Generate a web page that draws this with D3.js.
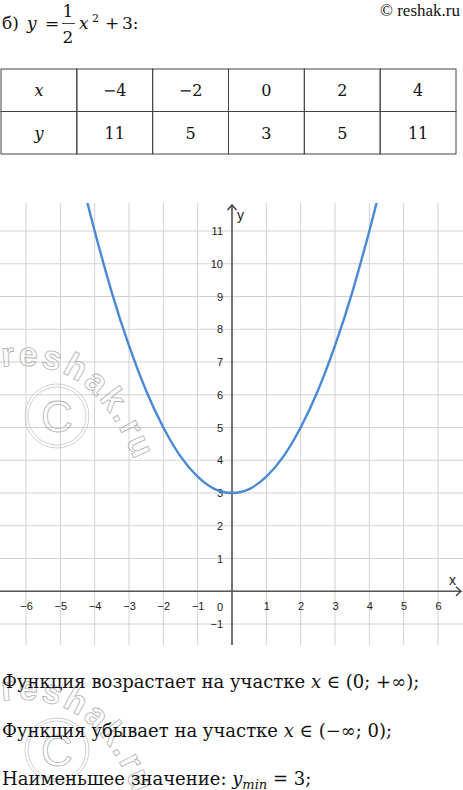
<!DOCTYPE html>
<html>
<head>
<meta charset="utf-8">
<script src="https://d3js.org/d3.v7.min.js"></script>
<style>
  body { margin: 0; background: #fff; }
  .serif { font-family: "DejaVu Serif", serif; fill: #111; }
  .tick text { font-family: "Liberation Sans", Arial, sans-serif; font-size: 11px; fill: #222; }
  .wm { font-family: "Liberation Sans", Arial, sans-serif; fill: none; stroke: #b0b0b0; stroke-width: 0.8; }
</style>
</head>
<body>
<svg id="stage" width="463" height="790"></svg>
<script>
// table values
var tableX = [-4, -2, 0, 2, 4];
var tableY = [11, 5, 3, 5, 11];

var curveX = [-4.22, -4, -3.5, -3, -2.5, -2, -1.5, -1, -0.5, 0, 0.5, 1, 1.5, 2, 2.5, 3, 3.5, 4, 4.22];
var curveY = [11.9, 11, 9.12, 7.5, 6.12, 5, 4.12, 3.5, 3.12, 3, 3.12, 3.5, 4.12, 5, 6.12, 7.5, 9.12, 11, 11.9];

// axis ticks
var tickX = [-6, -5, -4, -3, -2, -1, 1, 2, 3, 4, 5, 6];
var tickY = [-1, 1, 2, 3, 4, 5, 6, 7, 8, 9, 10, 11];

var svg = d3.select("#stage");

// ---- header formula
var head = svg.append("g").attr("class", "serif").attr("font-size", 17);
head.append("text").attr("x", 2).attr("y", 29).text("б)");
head.append("text").attr("x", 27).attr("y", 29).attr("font-style", "italic").text("y");
head.append("text").attr("x", 45).attr("y", 29).text("=");
head.append("text").attr("x", 68).attr("y", 17).attr("text-anchor", "middle").text("1");
head.append("line").attr("x1", 62).attr("x2", 75).attr("y1", 23.5).attr("y2", 23.5)
  .attr("stroke", "#111").attr("stroke-width", 0.8);
head.append("text").attr("x", 68).attr("y", 43).attr("text-anchor", "middle").text("2");
head.append("text").attr("x", 79).attr("y", 29).attr("font-style", "italic").text("x");
head.append("text").attr("x", 92).attr("y", 22).attr("font-size", 11).text("2");
head.append("text").attr("x", 105).attr("y", 29).text("+");
head.append("text").attr("x", 122).attr("y", 29).text("3:");
svg.append("text").attr("x", 460).attr("y", 16)
  .attr("font-family", "Liberation Serif, serif").attr("fill", "#111")
  .attr("text-anchor", "end").attr("font-size", 17).text("© reshak.ru");

// ---- table
var colX = d3.scaleBand().domain(d3.range(6)).range([1, 456]);
var rowY = d3.scaleBand().domain([0, 1]).range([69, 154]);
var tbl = svg.append("g");
var rows = [["x"].concat(tableX.map(d3.format(""))), ["y"].concat(tableY.map(d3.format("")))];
rows.forEach(function(r, ri) {
  r.forEach(function(v, ci) {
    tbl.append("rect")
      .attr("x", colX(ci)).attr("y", rowY(ri))
      .attr("width", colX.bandwidth()).attr("height", rowY.bandwidth())
      .attr("fill", "none").attr("stroke", "#444").attr("stroke-width", 1);
    tbl.append("text").attr("class", "serif")
      .attr("x", colX(ci) + colX.bandwidth() / 2)
      .attr("y", rowY(ri) + rowY.bandwidth() / 2 + 6)
      .attr("text-anchor", "middle").attr("font-size", 16)
      .attr("font-style", ci == 0 ? "italic" : null)
      .text(v);
  });
});

// ---- chart
var x = d3.scaleLinear().domain([-6, 6]).range([26, 438]);
var y = d3.scaleLinear().domain([-1, 11]).range([624, 231]);
var gTop = 203, gBottom = 645;

var grid = svg.append("g").attr("stroke", "#d2d2d2").attr("stroke-width", 1);
grid.selectAll(".v").data(d3.range(-6, 7)).enter().append("line")
  .attr("x1", function(d) { return x(d); }).attr("x2", function(d) { return x(d); })
  .attr("y1", gTop).attr("y2", gBottom);
grid.selectAll(".h").data(d3.range(-1, 12)).enter().append("line")
  .attr("x1", 0).attr("x2", 463)
  .attr("y1", function(d) { return y(d); }).attr("y2", function(d) { return y(d); });

// watermark
function watermark(dy) {
  var w = svg.append("g").attr("transform", "translate(0," + dy + ")");
  var id = "wm" + dy;
  w.append("path").attr("id", id).attr("fill", "none")
    .attr("d", "M 2,367 C 55,360 102,378 134,460");
  w.append("text").attr("class", "wm").attr("font-size", 34).attr("font-weight", "bold")
    .attr("letter-spacing", 3)
    .append("textPath").attr("href", "#" + id).text("reshak.ru");
  w.append("circle").attr("cx", 57).attr("cy", 416).attr("r", 32)
    .attr("fill", "none").attr("stroke", "#c4c4c4").attr("stroke-width", 0.8);
  w.append("circle").attr("cx", 57).attr("cy", 416).attr("r", 29)
    .attr("fill", "none").attr("stroke", "#c4c4c4").attr("stroke-width", 0.8);
  w.append("text").attr("class", "wm").attr("x", 57).attr("y", 432)
    .attr("text-anchor", "middle").attr("font-size", 44).text("C");
}
watermark(0);

// axes
var axisColor = "#555";
svg.append("line").attr("x1", 0).attr("x2", 461).attr("y1", y(0)).attr("y2", y(0))
  .attr("stroke", axisColor).attr("stroke-width", 1.6);
svg.append("path").attr("d", "M 456," + (y(0) - 4.5) + " L 461," + y(0) + " L 456," + (y(0) + 4.5))
  .attr("fill", "none").attr("stroke", "#333").attr("stroke-width", 1.2);
svg.append("line").attr("x1", x(0)).attr("x2", x(0)).attr("y1", gBottom).attr("y2", 205)
  .attr("stroke", axisColor).attr("stroke-width", 1.6);
svg.append("path").attr("d", "M " + (x(0) - 4.5) + ",210 L " + x(0) + ",205 L " + (x(0) + 4.5) + ",210")
  .attr("fill", "none").attr("stroke", "#333").attr("stroke-width", 1.2);

var ax = svg.append("g").attr("transform", "translate(0," + y(0) + ")")
  .call(d3.axisBottom(x).tickValues(tickX).tickSize(0).tickPadding(11));
ax.select(".domain").remove();
var ay = svg.append("g").attr("transform", "translate(" + x(0) + ",0)")
  .call(d3.axisLeft(y).tickValues(tickY).tickSize(0).tickPadding(9));
ay.select(".domain").remove();

svg.append("text").attr("x", x(0) - 12).attr("y", y(0) + 20)
  .attr("font-family", "Liberation Sans, Arial, sans-serif").attr("font-size", 11)
  .attr("fill", "#222").attr("text-anchor", "middle").text("0");
svg.append("text").attr("x", 449).attr("y", 585)
  .attr("font-family", "Liberation Sans, Arial, sans-serif").attr("font-size", 14)
  .attr("fill", "#222").text("x");
svg.append("text").attr("x", 237).attr("y", 220)
  .attr("font-family", "Liberation Sans, Arial, sans-serif").attr("font-size", 14)
  .attr("fill", "#222").text("y");

// curve
svg.append("clipPath").attr("id", "clip").append("rect")
  .attr("x", 0).attr("y", gTop).attr("width", 463).attr("height", gBottom - gTop);
var pts = curveX.map(function(d, i) { return [d, curveY[i]]; });
svg.append("path").datum(pts)
  .attr("clip-path", "url(#clip)")
  .attr("fill", "none").attr("stroke", "#4a89d6").attr("stroke-width", 2.4)
  .attr("d", d3.line().x(function(d) { return x(d[0]); }).y(function(d) { return y(d[1]); })
    .curve(d3.curveNatural));

// ---- bottom text
watermark(334);
var foot = svg.append("g").attr("class", "serif").attr("font-size", 18)
  .style("white-space", "pre");
var t1 = foot.append("text").attr("x", 2).attr("y", 688);
t1.append("tspan").text("Функция возрастает на участке ");
t1.append("tspan").attr("font-style", "italic").text("x");
t1.append("tspan").text(" ∈ (0; +∞);");
var t2 = foot.append("text").attr("x", 2).attr("y", 737);
t2.append("tspan").text("Функция убывает на участке ");
t2.append("tspan").attr("font-style", "italic").text("x");
t2.append("tspan").text(" ∈ (−∞; 0);");
var t3 = foot.append("text").attr("x", 2).attr("y", 785);
t3.append("tspan").text("Наименьшее значение:  ");
t3.append("tspan").attr("font-style", "italic").text("y");
t3.append("tspan").attr("font-style", "italic").attr("font-size", 13).attr("dy", 4).text("min");
t3.append("tspan").attr("dy", -4).text(" = 3;");
</script>
</body>
</html>
